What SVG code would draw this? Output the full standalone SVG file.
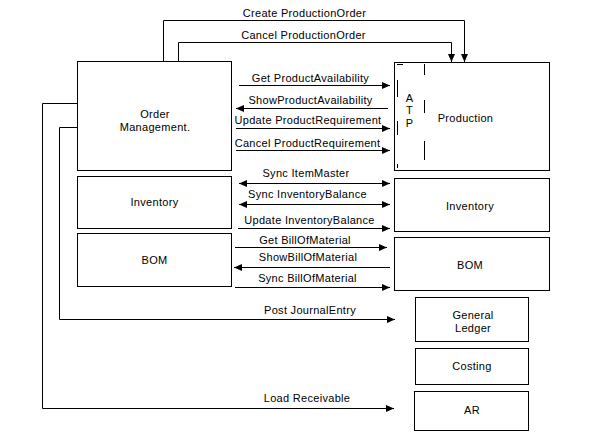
<svg xmlns="http://www.w3.org/2000/svg" width="590" height="442" viewBox="0 0 590 442">
<defs>
<style>
text{font-family:"Liberation Sans",Arial,sans-serif;font-size:11px;fill:#000;letter-spacing:0.3px;text-anchor:middle}
.box{fill:#fff;stroke:#000;stroke-width:1}
.ln{fill:none;stroke:#000;stroke-width:1}
.mk{fill:none;stroke:#000;stroke-width:1}
</style>
<marker id="ah" markerUnits="userSpaceOnUse" markerWidth="9" markerHeight="8" refX="8" refY="3.5" orient="auto">
<path d="M0,0 L8,3.5 L0,7 z" fill="#000"/>
</marker>
<marker id="as" markerUnits="userSpaceOnUse" markerWidth="9" markerHeight="8" refX="0" refY="3.5" orient="auto">
<path d="M8,0 L0,3.5 L8,7 z" fill="#000"/>
</marker>
</defs>
<rect width="590" height="442" fill="#fff"/>

<g id="connectors">
<polyline class="ln" points="163.5,61 163.5,20.5 464.5,20.5 464.5,62" marker-end="url(#ah)"/>
<polyline class="ln" points="178.5,61 178.5,42.5 451.5,42.5 451.5,62" marker-end="url(#ah)"/>
<line class="ln" x1="239" y1="85.5" x2="390" y2="85.5" marker-end="url(#ah)"/>
<line class="ln" x1="236" y1="108.5" x2="388" y2="108.5" marker-start="url(#as)"/>
<line class="ln" x1="236" y1="128.5" x2="390" y2="128.5" marker-end="url(#ah)"/>
<line class="ln" x1="236" y1="150.5" x2="390" y2="150.5" marker-end="url(#ah)"/>
<line class="ln" x1="239" y1="183.5" x2="390" y2="183.5" marker-start="url(#as)" marker-end="url(#ah)"/>
<line class="ln" x1="239" y1="204.5" x2="390" y2="204.5" marker-start="url(#as)" marker-end="url(#ah)"/>
<line class="ln" x1="238" y1="228.5" x2="390" y2="228.5" marker-end="url(#ah)"/>
<line class="ln" x1="235" y1="247.5" x2="387" y2="247.5" marker-end="url(#ah)"/>
<line class="ln" x1="234" y1="267.5" x2="390" y2="267.5" marker-start="url(#as)"/>
<line class="ln" x1="235" y1="287.5" x2="390" y2="287.5" marker-end="url(#ah)"/>
<polyline class="ln" points="77,127.5 59.5,127.5 59.5,319.5 395,319.5" marker-end="url(#ah)"/>
<polyline class="ln" points="77,103.5 42.5,103.5 42.5,408.5 394,408.5" marker-end="url(#ah)"/>
<text x="304.5" y="17">Create ProductionOrder</text>
<text x="303.5" y="39">Cancel ProductionOrder</text>
<text x="310.5" y="82">Get ProductAvailability</text>
<text x="310.5" y="104">ShowProductAvailability</text>
<text x="308" y="124">Update ProductRequirement</text>
<text x="307.5" y="147">Cancel ProductRequirement</text>
<text x="306" y="177">Sync ItemMaster</text>
<text x="307.5" y="198">Sync InventoryBalance</text>
<text x="309.5" y="224">Update InventoryBalance</text>
<text x="305" y="244">Get BillOfMaterial</text>
<text x="308" y="261">ShowBillOfMaterial</text>
<text x="307.5" y="282">Sync BillOfMaterial</text>
<text x="310" y="314">Post JournalEntry</text>
<text x="307" y="402">Load Receivable</text>
</g>

<g id="order-management">
<rect class="box" x="77.5" y="61.5" width="154" height="109"/>
<text x="155" y="118">Order</text>
<text x="155" y="131">Management.</text>
</g>
<g id="inventory-left">
<rect class="box" x="77.5" y="176.5" width="154" height="52"/>
<text x="154.5" y="206">Inventory</text>
</g>
<g id="bom-left">
<rect class="box" x="77.5" y="233.5" width="154" height="53"/>
<text x="154.5" y="264">BOM</text>
</g>
<g id="production">
<rect class="box" x="394.5" y="62.5" width="155" height="108"/>
<line class="mk" x1="397" y1="64.5" x2="403" y2="64.5"/>
<line class="mk" x1="397.5" y1="80" x2="397.5" y2="97"/>
<line class="mk" x1="397.5" y1="121" x2="397.5" y2="135"/>
<line class="mk" x1="397.5" y1="164" x2="397.5" y2="168"/>
<line class="mk" x1="424.5" y1="64" x2="424.5" y2="75"/>
<line class="mk" x1="424.5" y1="100" x2="424.5" y2="113"/>
<line class="mk" x1="424.5" y1="141" x2="424.5" y2="160"/>
<text x="409.5" y="102">A</text>
<text x="409.5" y="114">T</text>
<text x="409.5" y="127">P</text>
<text x="465.5" y="122">Production</text>
</g>
<g id="inventory-right">
<rect class="box" x="394.5" y="178.5" width="155" height="53"/>
<text x="470" y="210">Inventory</text>
</g>
<g id="bom-right">
<rect class="box" x="394.5" y="237.5" width="155" height="53"/>
<text x="470" y="269">BOM</text>
</g>
<g id="general-ledger">
<rect class="box" x="415.5" y="297.5" width="113" height="44"/>
<text x="473" y="319">General</text>
<text x="473" y="332">Ledger</text>
</g>
<g id="costing">
<rect class="box" x="415.5" y="348.5" width="113" height="36"/>
<text x="472" y="370">Costing</text>
</g>
<g id="ar">
<rect class="box" x="414.5" y="391.5" width="114" height="39"/>
<text x="472" y="414">AR</text>
</g>
</svg>
